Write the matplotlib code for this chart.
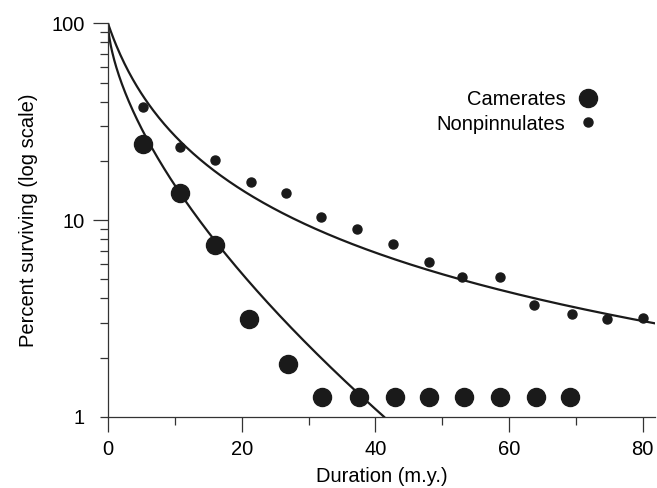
import matplotlib
matplotlib.use("Agg")
import matplotlib.pyplot as plt
import numpy as np
from matplotlib.ticker import MultipleLocator, FixedLocator, NullFormatter

plt.rcParams['font.family'] = ['Liberation Sans', 'DejaVu Sans']

# Camerates (large dots)
cam_x = [5.3, 10.8, 16.0, 21.1, 26.9, 32.0, 37.6, 42.9, 48.0, 53.3, 58.7, 64.0, 69.1]
cam_y = [24.5, 13.7, 7.45, 3.15, 1.86, 1.26, 1.26, 1.26, 1.26, 1.26, 1.26, 1.26, 1.26]

# Nonpinnulates (small dots)
non_x = [5.3, 10.8, 16.0, 21.4, 26.7, 31.9, 37.3, 42.7, 48.0, 53.0, 58.7, 63.7, 69.4, 74.6, 80.0]
non_y = [37.8, 23.4, 20.1, 15.6, 13.8, 10.4, 9.06, 7.57, 6.14, 5.13, 5.13, 3.68, 3.32, 3.15, 3.16]

# fitted survivorship curves (parameters)
cam_scale, cam_shape = 3.6, 0.626       # weibull
non_a, non_c = 5.5, 1.27                # power law

ink = '#1a1a1a'

fig = plt.figure(figsize=(6.57, 4.88), dpi=100)
ax = fig.add_axes([0.1644, 0.146, 0.8326, 0.806])

t1 = np.linspace(0, 41.3, 400)
ax.plot(t1, 100 * np.exp(-(t1 / cam_scale) ** cam_shape), color=ink, lw=1.6, zorder=2)
t2 = np.linspace(0, 82, 400)
ax.plot(t2, 100 * (1 + t2 / non_a) ** (-non_c), color=ink, lw=1.6, zorder=2)

h1, = ax.plot(cam_x, cam_y, 'o', color=ink, ms=13, ls='none', zorder=3)
h2, = ax.plot(non_x, non_y, 'o', color=ink, ms=6.5, ls='none', zorder=3)

ax.set_yscale('log')
ax.set_xlim(0, 81.84)
ax.set_ylim(1, 100)

ax.xaxis.set_major_locator(MultipleLocator(20))
ax.xaxis.set_minor_locator(FixedLocator([10, 30, 50, 70]))
ax.yaxis.set_major_locator(FixedLocator([1, 10, 100]))
ax.set_yticklabels(['1', '10', '100'])
ax.yaxis.set_minor_locator(FixedLocator([m * d for d in (1, 10) for m in range(2, 10)]))
ax.yaxis.set_minor_formatter(NullFormatter())

for s in ('top', 'right'):
    ax.spines[s].set_visible(False)
for s in ('left', 'bottom'):
    ax.spines[s].set_color('#333333')
    ax.spines[s].set_linewidth(0.9)

ax.tick_params(which='major', length=10.5, width=0.9, color='#333333', labelsize=14.5, pad=6)
ax.tick_params(which='minor', length=5.5, width=0.9, color='#333333')
# the y=1 tick is short in the original
ax.yaxis.get_major_ticks()[0].tick1line.set_markersize(5.5)

ax.set_xlabel('Duration (m.y.)', fontsize=14.5, labelpad=6)
ax.set_ylabel('Percent surviving (log scale)', fontsize=14.5, labelpad=10)

ax.legend([h1, h2], ['Camerates', 'Nonpinnulates'], markerfirst=False, frameon=False,
          fontsize=14.5, handlelength=1.0, handletextpad=0.6, labelspacing=0.25,
          loc='upper right', bbox_to_anchor=(0.91, 0.85), borderaxespad=0)

fig.savefig('out.png', dpi=100)
